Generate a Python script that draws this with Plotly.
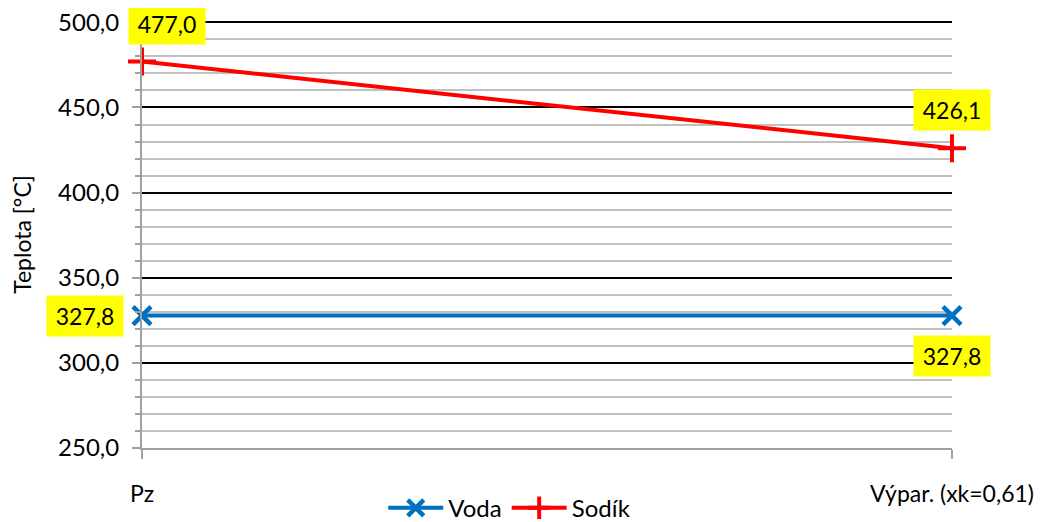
import plotly.graph_objects as go

categories = ["Pz", "Výpar. (xk=0,61)"]
voda = [327.8, 327.8]
sodik = [477.0, 426.1]
series_names = ["Voda", "Sodík"]

FONT = "Lato"

def fmt(v):
    return f"{v:.1f}".replace(".", ",")

fig = go.Figure()
fig.add_trace(go.Scatter(
    x=categories, y=voda, name=series_names[0], mode="lines+markers", cliponaxis=False,
    line=dict(color="#0070C0", width=4),
    marker=dict(symbol="x-thin", size=18, line=dict(color="#0070C0", width=4.5)),
))
fig.add_trace(go.Scatter(
    x=categories, y=sodik, name=series_names[1], mode="lines+markers", cliponaxis=False,
    line=dict(color="#FF0000", width=4),
    marker=dict(symbol="cross-thin", size=20, line=dict(color="#FF0000", width=4)),
))

label_style = dict(showarrow=False, bgcolor="#FFFF00", borderpad=5, width=66, height=30,
                   font=dict(family=FONT, size=23, color="#000000"))
# Sodík labels
fig.add_annotation(x=categories[0], y=sodik[0], text=fmt(sodik[0]), xshift=25, yshift=38, **label_style)
fig.add_annotation(x=categories[1], y=sodik[1], text=fmt(sodik[1]), xshift=0, yshift=38, **label_style)
# Voda labels
fig.add_annotation(x=categories[0], y=voda[0], text=fmt(voda[0]), xshift=-57, yshift=0, **label_style)
fig.add_annotation(x=categories[1], y=voda[1], text=fmt(voda[1]), xshift=0, yshift=-40, **label_style)

fig.update_layout(
    width=1045, height=522,
    margin=dict(l=134, r=101, t=13, b=82, autoexpand=False),
    paper_bgcolor="white", plot_bgcolor="white",
    separators=", ",
    font=dict(family=FONT, size=23, color="#000000"),
    showlegend=True,
    legend=dict(orientation="h", x=0.454, xanchor="center", y=-0.141, yanchor="middle",
                font=dict(family=FONT, size=24), tracegroupgap=0, itemwidth=55),
)
fig.update_xaxes(
    type="category", range=[0, 1], automargin=False,
    showgrid=True, gridcolor="#000000", gridwidth=2,
    showline=True, linecolor="#A0A0A0", linewidth=2,
    ticks="outside", ticklen=9, tickcolor="#A0A0A0", tickwidth=2,
    tickfont=dict(family=FONT, size=23), ticklabelstandoff=15,
    zeroline=False,
)
fig.update_yaxes(
    range=[250, 500.8], dtick=50, tick0=250, tickformat=".1f", automargin=False,
    ticklabeloverflow="allow", ticklabelstandoff=8,
    showgrid=True, gridcolor="#000000", gridwidth=2,
    showline=True, linecolor="#A0A0A0", linewidth=2,
    ticks="outside", ticklen=8, tickcolor="#A0A0A0", tickwidth=2,
    minor=dict(dtick=10, showgrid=True, gridcolor="#C0C0C0", gridwidth=2,
               ticks="outside", ticklen=5, tickcolor="#A0A0A0", tickwidth=2),
    tickfont=dict(family=FONT, size=24),
    title=dict(text="Teplota [°C]", font=dict(family=FONT, size=23), standoff=26),
    zeroline=False,
)

fig.write_html("out.html")
